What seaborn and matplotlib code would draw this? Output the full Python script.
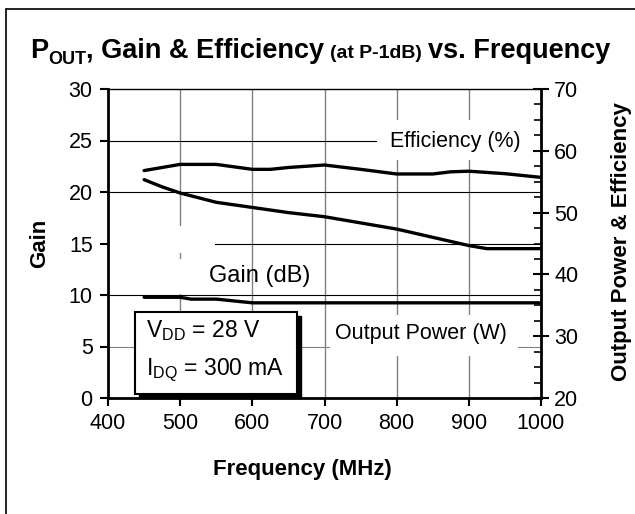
import matplotlib
matplotlib.use("Agg")
import matplotlib.pyplot as plt
import matplotlib.transforms as mtransforms
from matplotlib.patches import Rectangle
from matplotlib.lines import Line2D
from matplotlib.ticker import MultipleLocator
import seaborn as sns

# ---------------- data ----------------
freq_eff = [450, 475, 500, 550, 600, 625, 650, 700, 750, 800, 850, 875, 900, 950, 1000]
efficiency_pct = [56.8, 57.3, 57.8, 57.8, 57.0, 57.0, 57.3, 57.7, 57.0, 56.25, 56.25, 56.6, 56.7, 56.3, 55.7]

freq_gain = [450, 475, 500, 550, 600, 650, 700, 750, 800, 850, 900, 925, 950, 1000]
gain_db = [21.2, 20.5, 19.9, 19.0, 18.5, 18.0, 17.6, 17.0, 16.4, 15.6, 14.8, 14.5, 14.5, 14.5]

freq_pout = [450, 500, 515, 550, 600, 700, 800, 900, 1000]
pout_w = [36.3, 36.3, 36.0, 36.0, 35.4, 35.4, 35.4, 35.4, 35.4]

x_ticks = [400, 500, 600, 700, 800, 900, 1000]
left_ticks = [0, 5, 10, 15, 20, 25, 30]
right_ticks = [20, 30, 40, 50, 60, 70]

# ---------------- style ----------------
sns.set_style("white")
plt.rcParams['font.family'] = ['Liberation Sans', 'DejaVu Sans']
plt.rcParams['mathtext.fontset'] = 'custom'
plt.rcParams['mathtext.rm'] = 'Liberation Sans'
plt.rcParams['mathtext.bf'] = 'Liberation Sans:bold'
for k in ['text.color', 'axes.labelcolor', 'xtick.color', 'ytick.color', 'axes.edgecolor']:
    plt.rcParams[k] = 'black'

W, H = 635, 514
fig = plt.figure(figsize=(W / 100, H / 100), dpi=100)
fig.patch.set_facecolor('white')

# axes in pixel layout
ax_l, ax_r, ax_t, ax_b = 108, 541, 89, 398
ax = fig.add_axes([ax_l / W, 1 - ax_b / H, (ax_r - ax_l) / W, (ax_b - ax_t) / H])
ax2 = ax.twinx()

def afx(px):
    return (px - ax_l) / (ax_r - ax_l)

def afy(py):
    return (ax_b - py) / (ax_b - ax_t)

# grid (manual so styles can differ)
ax.set_axisbelow(True)
for xv in x_ticks[1:-1]:
    ax.axvline(xv, color='#808080', lw=1.0, zorder=0.5)
for yv in left_ticks[1:-1]:
    ax.axhline(yv, color='#808080' if yv == 5 else 'black', lw=0.8, zorder=0.5)

# white label boxes hiding gridlines
def white_box(px0, py0, px1, py1):
    ax.add_patch(Rectangle((afx(px0), afy(py1)), afx(px1) - afx(px0), afy(py0) - afy(py1),
                           transform=ax.transAxes, facecolor='white', edgecolor='none',
                           zorder=1, clip_on=True))

white_box(377, 120, 541, 160)    # Efficiency (%)
white_box(108, 226, 215, 253)
white_box(150, 259, 215, 294)    # Gain (dB)
white_box(330, 315, 518, 356)    # Output Power (W)

# curves
sns.lineplot(x=freq_gain, y=gain_db, ax=ax, color='black', linewidth=2.4, zorder=3)
sns.lineplot(x=freq_eff, y=efficiency_pct, ax=ax2, color='black', linewidth=2.4, zorder=3)
sns.lineplot(x=freq_pout, y=pout_w, ax=ax2, color='black', linewidth=2.4, zorder=3)

ax.set_xlim(400, 1000)
ax.set_ylim(0, 30)
ax2.set_ylim(20, 70)
ax.set_xticks(x_ticks)
ax.set_yticks(left_ticks)
ax2.set_yticks(right_ticks)
ax2.yaxis.set_minor_locator(MultipleLocator(2.5))
ax.set_xlabel('')
ax.set_ylabel('')
ax2.set_ylabel('')

fs_tick = 15.5
ax.tick_params(axis='x', direction='out', length=6, width=1.5, labelsize=fs_tick, pad=5,
               bottom=True, colors='black')
ax.tick_params(axis='y', direction='out', length=6, width=1.5, labelsize=fs_tick, pad=5,
               left=True, colors='black')
ax2.tick_params(axis='y', which='major', direction='inout', length=11, width=1.5,
                labelsize=fs_tick, pad=4, right=True, colors='black')
ax2.tick_params(axis='y', which='minor', direction='in', length=5, width=1.2, right=True,
                colors='black')

for s in ['left', 'bottom']:
    ax.spines[s].set_linewidth(2.0)
    ax.spines[s].set_color('black')
ax.spines['top'].set_linewidth(1.0)
ax.spines['top'].set_color('black')
ax.spines['right'].set_visible(False)
for s in ['left', 'bottom', 'top']:
    ax2.spines[s].set_visible(False)
ax2.spines['right'].set_linewidth(2.0)
ax2.spines['right'].set_color('black')
ax2.patch.set_visible(False)

# in-plot labels
fs_lab = 15.5
ax.text(afx(455), afy(141), 'Efficiency (%)', transform=ax.transAxes, fontsize=fs_lab,
        ha='center', va='center', zorder=4, color='black')
ax.text(afx(260), afy(276), 'Gain (dB)', transform=ax.transAxes, fontsize=fs_lab + 1.5,
        ha='center', va='center', zorder=4, color='black')
ax.text(afx(421), afy(334), 'Output Power (W)', transform=ax.transAxes, fontsize=fs_lab,
        ha='center', va='center', zorder=4, color='black')

# condition box with shadow
bx0, by0, bx1, by1 = 135, 312, 297, 394
sh = 4
ax2.add_patch(Rectangle((afx(bx0 + sh), afy(by1 + sh)), afx(bx1) - afx(bx0), afy(by0) - afy(by1),
                        transform=ax2.transAxes, facecolor='black', edgecolor='black',
                        zorder=5, clip_on=False))
ax2.add_patch(Rectangle((afx(bx0), afy(by1)), afx(bx1) - afx(bx0), afy(by0) - afy(by1),
                        transform=ax2.transAxes, facecolor='white', edgecolor='black',
                        lw=1.5, zorder=6, clip_on=False))
ax2.text(afx(146), afy(331), r'V$_{\mathregular{DD}}$ = 28 V', transform=ax2.transAxes,
         fontsize=16.5, ha='left', va='center', zorder=7, color='black')
ax2.text(afx(146), afy(370), r'I$_{\mathregular{DQ}}$ = 300 mA', transform=ax2.transAxes,
         fontsize=16.5, ha='left', va='center', zorder=7, color='black')

# axis labels (figure pixel positions)
ident = mtransforms.IdentityTransform()
fig.text(40, H - 243, 'Gain', transform=ident, fontsize=16, fontweight='bold',
         rotation=90, ha='center', va='center', color='black')
fig.text(622, H - 242, 'Output Power & Efficiency', transform=ident, fontsize=16,
         fontweight='bold', rotation=90, ha='center', va='center', color='black')
fig.text(302, H - 470, 'Frequency (MHz)', transform=ident, fontsize=16, fontweight='bold',
         ha='center', va='center', color='black')

# title assembled from pieces
fig.canvas.draw()
renderer = fig.canvas.get_renderer()
pieces = [
    ('P', 19.5, 0, 0),
    ('OUT', 13, -6, 0),
    (', Gain & Efficiency', 19.5, 0, 6),
    ('(at P-1dB)', 14, 0, 6),
    ('vs. Frequency', 19.5, 0, 0),
]
base_y = H - 58
texts = []
x = 0
for txt, size, dy, gap in pieces:
    t = fig.text(x, base_y + dy, txt, transform=ident, fontsize=size, fontweight='bold',
                 ha='left', va='baseline', color='black')
    bb = t.get_window_extent(renderer)
    texts.append((t, x))
    x = x + bb.width + gap
total = x
start = 320 - total / 2
for t, xo in texts:
    t.set_x(start + xo)

# outer frame (left and top edges visible)
fig.add_artist(Line2D([6, 6], [H - 9, -5], transform=ident, color='black', lw=1.2))
fig.add_artist(Line2D([6, W + 5], [H - 9, H - 9], transform=ident, color='black', lw=1.2))

fig.savefig('out.png', dpi=100, facecolor='white')
